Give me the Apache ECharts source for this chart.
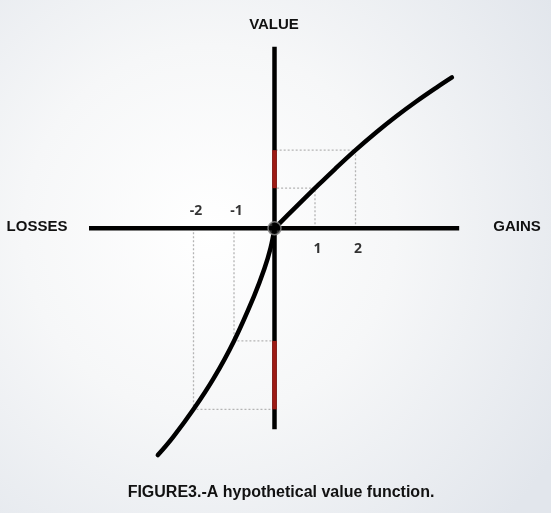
<!DOCTYPE html>
<html>
<head>
<meta charset="utf-8">
<script src="https://cdn.jsdelivr.net/npm/echarts@6/dist/echarts.min.js"></script>
<style>
html,body{margin:0;padding:0;}
#chart{width:551px;height:513px;background:radial-gradient(ellipse 75% 80% at 38% 45%, #ffffff 0%, #f6f7f8 45%, #e2e6ec 100%);}
</style>
</head>
<body>
<div id="chart"></div>
<script>
// Value function (gains and losses), in abstract units
const gainX = [0, 0.5, 1, 1.5, 2, 2.5, 3, 3.5, 4, 4.38];
const gainV = [0, 0.5, 0.99, 1.47, 1.93, 2.36, 2.76, 3.13, 3.475, 3.725];
const lossX = [0, -0.1, -0.25, -0.5, -1, -1.5, -2, -2.5, -2.88];
const lossV = [0, -0.5, -1.0, -1.66, -2.78, -3.7, -4.47, -5.15, -5.6];
// Reference ticks
const gainTicks = [1, 2];
const gainTickValues = [0.99, 1.93];
const lossTicks = [-1, -2];
const lossTickValues = [-2.78, -4.47];
const tickLabels = {'1': '1', '2': '2', '-1': '-1', '-2': '-2'};
// Axis extents
const xExtent = [-4.58, 4.56];
const yExtent = [-4.96, 4.48];
const axisNames = {y: 'VALUE', left: 'LOSSES', right: 'GAINS'};
const caption = 'FIGURE3.-A hypothetical value function.';

const chart = echarts.init(document.getElementById('chart'), null, {renderer: 'canvas'});

const zip = (xs, ys) => xs.map((x, i) => [x, ys[i]]);
const series = [];

// dotted guide lines
const guide = (t, v) => ({
  type: 'line', data: [[t, 0], [t, v], [0, v]], symbol: 'none', silent: true, clip: false,
  lineStyle: {color: '#b4b4b4', width: 1.3, type: [2, 2]}, z: 1
});
gainTicks.forEach((t, i) => series.push(guide(t, gainTickValues[i])));
lossTicks.forEach((t, i) => series.push(guide(t, lossTickValues[i])));

// axes
series.push({type: 'line', data: [[xExtent[0], 0], [xExtent[1], 0]], symbol: 'none', clip: false,
  lineStyle: {color: '#000', width: 4.5, cap: 'butt'}, z: 3});
series.push({type: 'line', data: [[0, yExtent[0]], [0, yExtent[1]]], symbol: 'none', clip: false,
  lineStyle: {color: '#000', width: 4.5, cap: 'butt'}, z: 3});

// red value ranges on the y-axis
series.push({type: 'line', data: [[0, gainTickValues[0]], [0, gainTickValues[1]]], symbol: 'none', clip: false,
  lineStyle: {color: '#9d1a14', width: 4.5, cap: 'butt'}, z: 4});
series.push({type: 'line', data: [[0, lossTickValues[0]], [0, lossTickValues[1]]], symbol: 'none', clip: false,
  lineStyle: {color: '#9d1a14', width: 4.5, cap: 'butt'}, z: 4});

// value curve
series.push({type: 'line', data: zip(gainX, gainV), symbol: 'none', smooth: 0.4, clip: false,
  lineStyle: {color: '#000', width: 4.5, cap: 'round', join: 'round'}, z: 5});
series.push({type: 'line', data: zip(lossX, lossV), symbol: 'none', smooth: 0.4, clip: false,
  lineStyle: {color: '#000', width: 4.5, cap: 'round', join: 'round'}, z: 5});

// origin dot
series.push({type: 'scatter', data: [[0, 0]], symbol: 'circle', symbolSize: 13, clip: false,
  itemStyle: {color: '#000', borderColor: '#8a8a8a', borderWidth: 1.5}, z: 6});

// tick labels
const tickFont = {fontFamily: '"Open Sans"', fontWeight: 'bold', fontSize: 14, color: '#000'};
series.push({type: 'scatter', data: gainTicks.map(t => [t, 0]), symbolSize: 0, clip: false, z: 6,
  label: Object.assign({show: true, position: 'bottom', distance: 14, offset: [2.5, 0],
    formatter: p => tickLabels[String(p.value[0])]}, tickFont)});
series.push({type: 'scatter', data: lossTicks.map(t => [t, 0]), symbolSize: 0, clip: false, z: 6,
  label: Object.assign({show: true, position: 'top', distance: 10, offset: [2.5, 0],
    formatter: p => tickLabels[String(p.value[0])]}, tickFont)});

const nameFont = 'bold 15px "Liberation Sans", Arial, sans-serif';

chart.setOption({
  animation: false,
  backgroundColor: 'transparent',
  grid: {left: 88.2, right: 90.2, top: 46.05, bottom: 41.7},
  xAxis: {type: 'value', min: -4.6, max: 4.6, show: false},
  yAxis: {type: 'value', min: -6, max: 4.5, show: false},
  series: series,
  graphic: [
    {type: 'text', x: 274, y: 25, z: 10, style: {text: axisNames.y, font: nameFont, fill: '#111', align: 'center', verticalAlign: 'middle'}},
    {type: 'text', x: 37, y: 227, z: 10, style: {text: axisNames.left, font: nameFont, fill: '#111', align: 'center', verticalAlign: 'middle'}},
    {type: 'text', x: 517, y: 227, z: 10, style: {text: axisNames.right, font: nameFont, fill: '#111', align: 'center', verticalAlign: 'middle'}},
    {type: 'text', x: 281, y: 493, z: 10, style: {text: caption, font: 'bold 16px "Liberation Sans", Arial, sans-serif', fill: '#111', align: 'center', verticalAlign: 'middle'}}
  ]
});
</script>
</body>
</html>
